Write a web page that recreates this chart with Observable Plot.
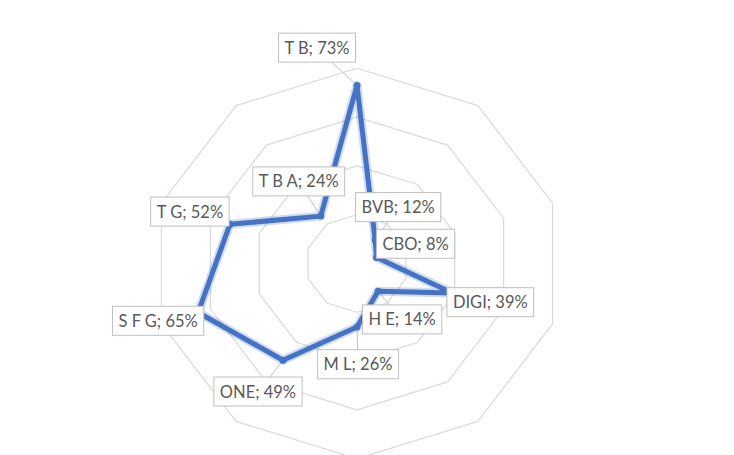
<!DOCTYPE html>
<html>
<head>
<meta charset="utf-8">
<script src="https://cdn.jsdelivr.net/npm/d3@7"></script>
<script src="https://cdn.jsdelivr.net/npm/@observablehq/plot@0.6"></script>
<style>
  html, body { margin: 0; padding: 0; background: #ffffff; }
  #chart svg { display: block; }
</style>
</head>
<body>
<div id="chart"></div>
<script>
// ---- Data ----
const categories = ["T B", "BVB", "CBO", "DIGI", "H E", "M L", "ONE", "S F G", "T G", "T B A"];
const values = [73, 12, 8, 39, 14, 26, 49, 65, 52, 24];   // percent
const gridLevels = [20, 40, 60, 80];                        // radial gridlines (max 80%)

// ---- Layout (not data) ----
const W = 734, H = 455;
const CX = 356.5, CY = 263;   // centre in pixels
const KX = 2.57, KY = 2.44;   // pixels per percentage point (picture is slightly stretched horizontally)
// label offsets from each point, in pixels
const labelOffsets = [[-40, -37], [23, -32], [39, -13], [38, 10], [24, 29], [1, 38], [-25, 32], [-40, 9], [-40, -12], [-22, -34]];

const n = categories.length;
const angle = (i) => (i * 2 * Math.PI) / n;
const px = (i, r) => r * Math.sin(angle(i));
const py = (i, r) => r * Math.cos(angle(i));

const points = categories.map((c, i) => ({
  cat: c, value: values[i],
  x: px(i, values[i]), y: py(i, values[i]),
  lx: px(i, values[i]) + labelOffsets[i][0] / KX,
  ly: py(i, values[i]) - labelOffsets[i][1] / KY,
  label: `${c}; ${values[i]}%`
}));

const grid = gridLevels.flatMap((lvl) => categories.map((c, i) => ({lvl, x: px(i, lvl), y: py(i, lvl)})));

const chart = Plot.plot({
  width: W,
  height: H,
  margin: 0,
  style: {background: "#ffffff", fontFamily: "Lato, 'Open Sans', sans-serif"},
  x: {domain: [-CX / KX, (W - CX) / KX], range: [0, W], axis: null},
  y: {domain: [-(H - CY) / KY, CY / KY], range: [H, 0], axis: null},
  marks: [
    Plot.line(grid, {x: "x", y: "y", z: "lvl", curve: "linear-closed", stroke: "#d9d9d9", strokeWidth: 1.2}),
    Plot.link(points, {x1: "x", y1: "y", x2: "lx", y2: "ly", stroke: "#bfbfbf", strokeWidth: 1}),
    Plot.line(points, {x: "x", y: "y", curve: "linear-closed", stroke: "#4472c4", strokeOpacity: 0.25, strokeWidth: 9, strokeLinejoin: "round"}),
    Plot.line(points, {x: "x", y: "y", curve: "linear-closed", stroke: "#4472c4", strokeWidth: 5, strokeLinejoin: "round"}),
    Plot.dot(points, {x: "x", y: "y", r: 3.5, fill: "#4472c4"}),
    Plot.text(points, {x: "lx", y: "ly", text: "label", fill: "#595959", fontSize: 16.5, textAnchor: "middle"})
  ]
});

document.getElementById("chart").append(chart);

// white boxes with grey borders behind the labels
chart.querySelectorAll('g[aria-label="text"] text').forEach((t) => {
  const b = t.getBBox();
  const rect = document.createElementNS("http://www.w3.org/2000/svg", "rect");
  const padX = 6, h = 29;
  const tf = t.getAttribute("transform");
  rect.setAttribute("x", b.x - padX);
  rect.setAttribute("y", b.y + b.height / 2 - h / 2);
  rect.setAttribute("width", b.width + 2 * padX);
  rect.setAttribute("height", h);
  if (tf) rect.setAttribute("transform", tf);
  rect.setAttribute("fill", "#ffffff");
  rect.setAttribute("stroke", "#bfbfbf");
  rect.setAttribute("stroke-width", "1");
  t.parentNode.insertBefore(rect, t);
});
</script>
</body>
</html>
